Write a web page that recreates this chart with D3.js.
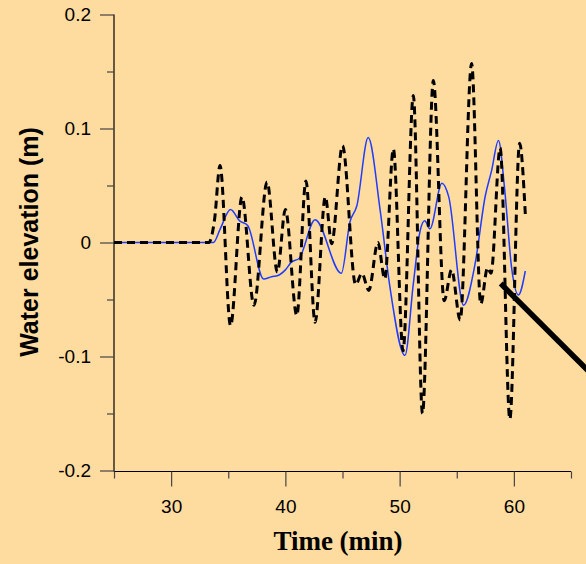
<!DOCTYPE html>
<html><head><meta charset="utf-8">
<script src="https://cdn.jsdelivr.net/npm/d3@7"></script>
<style>
html,body{margin:0;padding:0;background:#fedc9f;}
svg{display:block;}
</style></head>
<body>
<svg id="c" width="586" height="564"></svg>
<script>
// ---- data ----
const xMajorTicks = [30, 40, 50, 60];
const xMinorTicks = [25, 35, 45, 55, 65];
const yMajorTicks = [0.2, 0.1, 0, -0.1, -0.2];
const yMinorTicks = [0.15, 0.05, -0.05, -0.15];
const yTickLabels = ["0.2", "0.1", "0", "-0.1", "-0.2"];

// measured (black dashed)
const measuredT = [25, 33.3, 33.8, 34.28, 35.2, 36.2, 37.25, 38.4, 39.3, 40.0, 41.0, 41.8, 42.6, 43.5, 44.05, 45.0, 46.15, 46.7, 47.3, 48.1, 48.7, 49.45, 50.3, 51.2, 52.0, 52.95, 53.9, 54.55, 55.3, 56.3, 57.1, 57.7, 58.0, 58.8, 59.65, 60.5, 61.0];
const measuredV = [0, 0, 0.02, 0.0675, -0.073, 0.040, -0.055, 0.053, -0.026, 0.029, -0.064, 0.054, -0.070, 0.040, -0.001, 0.085, -0.037, -0.027, -0.042, 0.000, -0.032, 0.082, -0.095, 0.129, -0.150, 0.142, -0.051, -0.024, -0.068, 0.157, -0.054, -0.022, -0.027, 0.083, -0.155, 0.087, 0.025];

// model (blue solid)
const modelT = [25, 33.7, 34.3, 35.2, 36.0, 36.7, 38.1, 38.8, 39.35, 40.0, 40.55, 41.2, 42.6, 44.9, 45.65, 46.25, 47.25, 48.3, 49.15, 50.47, 51.2, 51.8, 52.2, 52.65, 53.7, 54.3, 55.6, 56.6, 57.5, 58.05, 58.65, 59.2, 59.8, 60.4, 61.0];
const modelV = [0, 0, 0.012, 0.029, 0.019, 0.015, -0.032, -0.030, -0.029, -0.024, -0.017, -0.014, 0.020, -0.027, 0.018, 0.032, 0.092, 0.028, -0.039, -0.099, -0.036, 0.0105, 0.019, 0.012, 0.052, 0.040, -0.055, -0.019, 0.041, 0.063, 0.0895, 0.046, -0.022, -0.046, -0.025];

// annotation pointer (data units)
const pointerT = [58.85, 67];
const pointerV = [-0.036, -0.1175];

// ---- chart ----
const svg = d3.select("#c");
const x = d3.scaleLinear().domain([25, 65]).range([114, 571]);
const y = d3.scaleLinear().domain([-0.2, 0.2]).range([470.5, 14.5]);

const axisColor = "#000";
const tickColor = "#444";

// axes lines
svg.append("line").attr("x1", x(25)).attr("x2", x(25)).attr("y1", y(0.2)).attr("y2", 471.5)
  .attr("stroke", axisColor).attr("stroke-width", 1.2);
svg.append("line").attr("x1", x(25)).attr("x2", x(65)).attr("y1", 471.5).attr("y2", 471.5)
  .attr("stroke", axisColor).attr("stroke-width", 1.2);

// y ticks
const yAxMaj = d3.axisLeft(y).tickValues(yMajorTicks).tickSize(14).tickPadding(9)
  .tickFormat((d, i) => yTickLabels[i]);
const gy = svg.append("g").attr("transform", `translate(${x(25)},0)`).call(yAxMaj);
gy.select(".domain").remove();
gy.selectAll(".tick line").attr("stroke", tickColor).attr("stroke-width", 1.2);
gy.selectAll(".tick text").attr("font-family", "Liberation Sans, Arial, sans-serif")
  .attr("font-size", 19).attr("fill", "#000");
const gy2 = svg.append("g").attr("transform", `translate(${x(25)},0)`)
  .call(d3.axisLeft(y).tickValues(yMinorTicks).tickSize(7).tickFormat(""));
gy2.select(".domain").remove();
gy2.selectAll(".tick line").attr("stroke", tickColor).attr("stroke-width", 1.2);

// x ticks
const gx = svg.append("g").attr("transform", `translate(0,471.5)`)
  .call(d3.axisBottom(x).tickValues(xMajorTicks).tickSize(15).tickPadding(13).tickFormat(d3.format("d")));
gx.select(".domain").remove();
gx.selectAll(".tick line").attr("stroke", tickColor).attr("stroke-width", 1.2);
gx.selectAll(".tick text").attr("font-family", "Liberation Sans, Arial, sans-serif")
  .attr("font-size", 19).attr("fill", "#000");
const gx2 = svg.append("g").attr("transform", `translate(0,471.5)`)
  .call(d3.axisBottom(x).tickValues(xMinorTicks).tickSize(7).tickFormat(""));
gx2.select(".domain").remove();
gx2.selectAll(".tick line").attr("stroke", tickColor).attr("stroke-width", 1.2);

// titles
svg.append("text").attr("x", 338).attr("y", 550).attr("text-anchor", "middle")
  .attr("font-family", "Liberation Serif, Times New Roman, serif").attr("font-weight", "bold")
  .attr("font-size", 27).text("Time (min)");
svg.append("text").attr("transform", "translate(38,242) rotate(-90)").attr("text-anchor", "middle")
  .attr("font-family", "Liberation Sans, Arial, sans-serif").attr("font-weight", "bold")
  .attr("font-size", 25).text("Water elevation (m)");

// series
const line = d3.line().x(d => x(d[0])).y(d => y(d[1])).curve(d3.curveMonotoneX);
const model = modelT.map((t, i) => [t, modelV[i]]);
const meas = measuredT.map((t, i) => [t, measuredV[i]]);

svg.append("path").attr("d", line(model)).attr("fill", "none")
  .attr("stroke", "#1f3cff").attr("stroke-width", 1.5);
svg.append("path").attr("d", line(meas)).attr("fill", "none")
  .attr("stroke", "#000").attr("stroke-width", 3).attr("stroke-dasharray", "8,5");

// pointer
svg.append("line")
  .attr("x1", x(pointerT[0])).attr("y1", y(pointerV[0]))
  .attr("x2", x(pointerT[1])).attr("y2", y(pointerV[1]))
  .attr("stroke", "#000").attr("stroke-width", 5.5);
</script>
</body></html>
